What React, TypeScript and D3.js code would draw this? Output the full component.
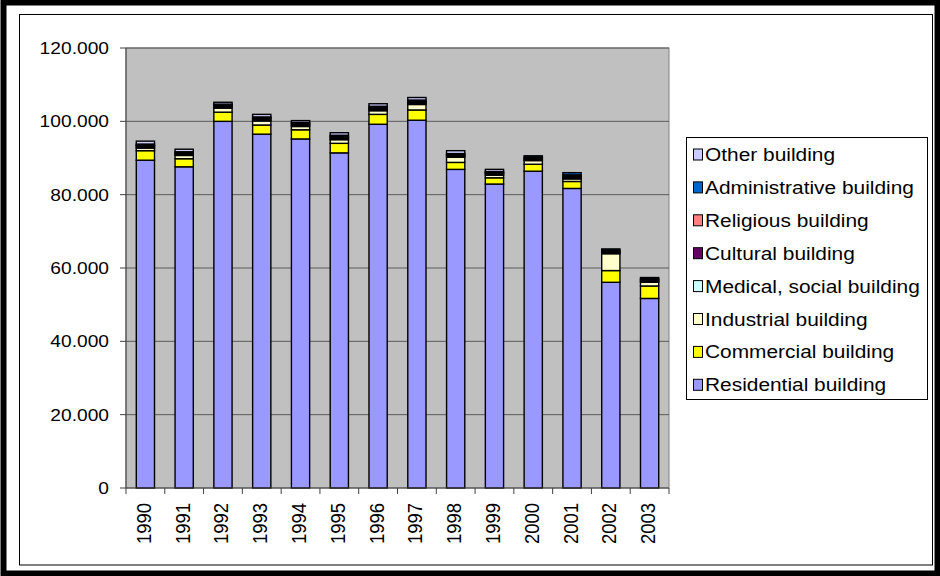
import React from 'react';
import * as d3 from 'd3';

const years = ['1990', '1991', '1992', '1993', '1994', '1995', '1996', '1997', '1998', '1999', '2000', '2001', '2002', '2003'];
const residential = [89400, 87600, 100000, 96500, 95200, 91400, 99200, 100300, 86900, 82900, 86400, 81700, 56100, 51700];
const commercial = [2600, 2200, 2500, 2500, 2500, 2600, 2700, 2800, 1900, 1700, 1900, 1900, 3200, 3400];
const industrial = [700, 900, 1100, 1100, 900, 1000, 1000, 1500, 1400, 700, 1000, 700, 4600, 1000];
const medical = [300, 300, 300, 300, 300, 300, 300, 300, 300, 300, 300, 300, 300, 300];
const cultural = [400, 300, 400, 400, 400, 400, 400, 400, 300, 300, 300, 400, 300, 300];
const religious = [100, 100, 100, 100, 100, 100, 100, 100, 100, 100, 300, 400, 300, 300];
const administrative = [300, 300, 300, 300, 300, 400, 400, 400, 300, 300, 400, 600, 400, 400];
const other = [800, 700, 500, 700, 500, 700, 700, 700, 800, 600, 0, 0, 0, 0];

const yTickValues = [0, 20000, 40000, 60000, 80000, 100000, 120000];
const yTickLabels = ['0', '20.000', '40.000', '60.000', '80.000', '100.000', '120.000'];

// bottom to top
const series = [
    { key: 'residential', name: 'Residential building', color: '#9999FF', values: residential },
    { key: 'commercial', name: 'Commercial building', color: '#FFFF00', values: commercial },
    { key: 'industrial', name: 'Industrial building', color: '#FFFFCC', values: industrial },
    { key: 'medical', name: 'Medical, social building', color: '#CCFFFF', values: medical },
    { key: 'cultural', name: 'Cultural building', color: '#660066', values: cultural },
    { key: 'religious', name: 'Religious building', color: '#FF8080', values: religious },
    { key: 'administrative', name: 'Administrative building', color: '#0066CC', values: administrative },
    { key: 'other', name: 'Other building', color: '#CCCCFF', values: other },
];

const FONT = '"Liberation Sans", Arial, sans-serif';
const SX = 1.13; // the picture is a bit stretched sideways

export default function App() {
    const width = 940;
    const height = 576;
    const plot = { l: 126, r: 669, t: 48, b: 488 };

    const rows = years.map((yr, i) => {
        const row: any = { year: yr };
        series.forEach(s => { row[s.key] = s.values[i]; });
        return row;
    });
    const stacked = d3.stack().keys(series.map(s => s.key))(rows);

    const x = d3.scaleBand()
        .domain(years)
        .range([plot.l, plot.r])
        .paddingInner(0.53)
        .paddingOuter(0.265);
    const step = x.step();

    const y = d3.scaleLinear()
        .domain([0, 120000])
        .range([plot.b, plot.t]);

    const legend = { x: 686, y: 137, w: 241, h: 262 };
    const rowH = 32.9;
    const legendItems = series.slice().reverse();

    return (
        <svg width={width} height={height} style={{ position: 'absolute', left: 0, top: 0, background: '#fff' }}>
            {/* frames */}
            <rect x={3.5} y={2.5} width={width - 6} height={height - 5} fill="#fff" stroke="#000" strokeWidth={6} />
            <rect x={19.5} y={14.5} width={913} height={550.5} fill="none" stroke="#000" strokeWidth={1} />

            {/* plot area */}
            <rect x={plot.l} y={plot.t} width={plot.r - plot.l} height={plot.b - plot.t} fill="#C0C0C0" stroke="#808080" strokeWidth={1} />
            {yTickValues.filter(d => d > 0).map(d =>
                <line key={d} x1={plot.l} x2={plot.r} y1={y(d)} y2={y(d)} stroke="#5a5a5a" strokeWidth={1} />
            )}

            {/* bars */}
            <g>
                {stacked.map((layer, li) =>
                    <g key={layer.key} fill={series[li].color}>
                        {layer.map((seg, i) => (seg[1] - seg[0] > 0 ?
                            <rect key={i} x={x(years[i])} y={y(seg[1])}
                                width={x.bandwidth()} height={y(seg[0]) - y(seg[1])}
                                stroke="#000" strokeWidth={1.4} /> : null))}
                    </g>
                )}
            </g>

            {/* axes */}
            <line x1={plot.l} x2={plot.l} y1={plot.t} y2={plot.b} stroke="#404040" />
            <line x1={plot.l} x2={plot.r} y1={plot.b} y2={plot.b} stroke="#404040" />
            {yTickValues.map((d, i) =>
                <g key={d}>
                    <line x1={plot.l - 6} x2={plot.l} y1={y(d)} y2={y(d)} stroke="#404040" />
                    <text transform={`translate(109,${y(d) + 6}) scale(${SX},1)`} textAnchor="end"
                        fontFamily={FONT} fontSize={17} fill="#000">{yTickLabels[i]}</text>
                </g>
            )}
            {years.map((yr, i) =>
                <line key={'t' + yr} x1={plot.l + i * step} x2={plot.l + i * step} y1={plot.b} y2={plot.b + 6} stroke="#404040" />
            )}
            <line x1={plot.r} x2={plot.r} y1={plot.b} y2={plot.b + 6} stroke="#404040" />
            {years.map(yr =>
                <text key={'l' + yr}
                    transform={`translate(${(x(yr) as number) + x.bandwidth() / 2 + 5.5},503) scale(${SX},1) rotate(-90)`}
                    textAnchor="end" fontFamily={FONT} fontSize={18.5} fill="#000">{yr}</text>
            )}

            {/* legend */}
            <rect x={legend.x + 0.5} y={legend.y + 0.5} width={legend.w} height={legend.h} fill="#fff" stroke="#000" strokeWidth={1} />
            {legendItems.map((s, i) => {
                const cy = 154.5 + i * rowH;
                return (
                    <g key={s.key}>
                        <rect x={693.5} y={cy - 5.5} width={9} height={11} fill={s.color} stroke="#000" strokeWidth={1} />
                        <text transform={`translate(705,${cy + 6.5}) scale(${SX},1)`} fontFamily={FONT} fontSize={18.5} fill="#000">{s.name}</text>
                    </g>
                );
            })}
        </svg>
    );
}
